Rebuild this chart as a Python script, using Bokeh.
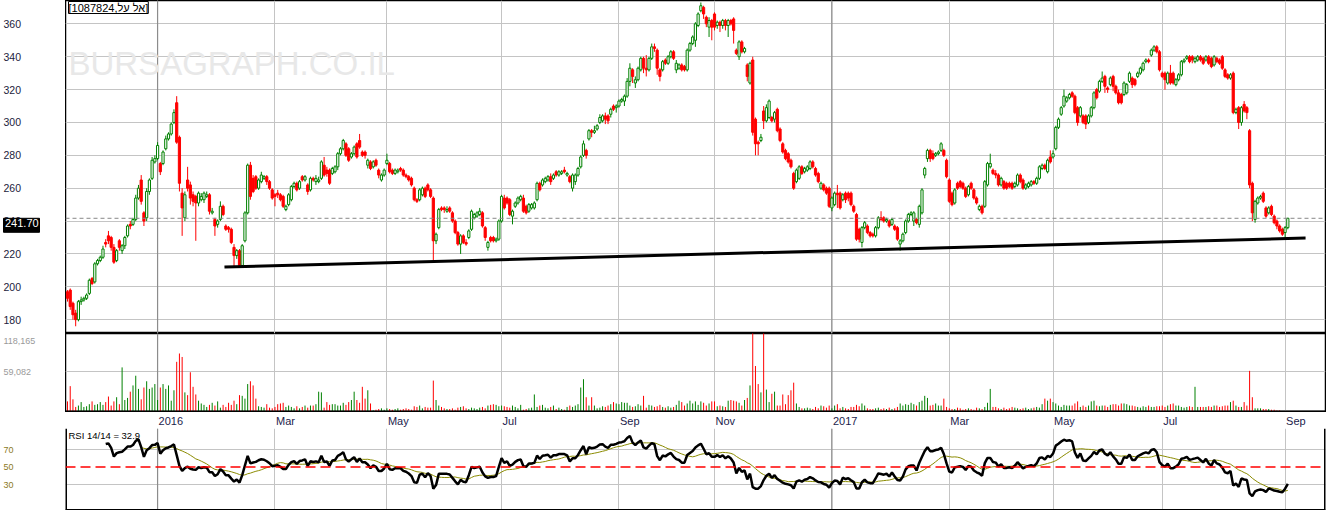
import numpy as np
import pandas as pd
from bokeh.plotting import figure
from bokeh.layouts import column, row
from bokeh.models import Range1d, FixedTicker, Span, Label, ColumnDataSource, Spacer
from bokeh.core.properties import value
from bokeh.embed import file_html
from bokeh.resources import INLINE

opens = [197,198,190,184,180,191,192,193,196,205, 203,214,216,218,227,231,230,224,216,228,
 222,225,231,238,238,241,254,265,245,242, 258,266,276,278,275,275,284,290,293,300,
 312,291,257,242,265,262,256,255,251,253, 253,255,256,245,241,238,241,249,237,236,
 235,224,219,222,213,228,245,274,266,267, 260,264,266,267,264,259,256,257,256,255,
 247,250,253,261,263,260,267,265,262,259, 266,264,264,266,274,271,271,269,270,273,
 281,284,287,284,279,281,287,289,282,282, 274,276,273,277,271,265,268,275,275,271,
 269,270,272,271,268,267,266,260,253,253, 256,260,262,259,254,228,236,248,248,246,
 248,245,240,233,226,231,227,230,235,242, 243,244,245,236,224,230,230,228,229,240,
 254,254,253,243,249,251,253,254,249,246, 248,248,253,263,262,264,265,267,266,270,
 268,269,271,268,267,260,264,268,273,280, 283,290,295,294,296,300,301,304,304,305,
 310,309,310,313,313,316,325,332,324,326, 332,339,333,332,339,346,344,332,332,338,
 336,340,343,332,333,335,334,332,344,348, 350,359,368,370,364,358,362,366,359,361,
 359,362,359,362,363,344,340,349,343,335, 324,338,302,288,289,307,301,303,303,302,
 308,296,287,283,281,277,269,264,266,273, 270,271,272,276,272,269,260,262,260,260,
 248,250,257,257,253,257,257,257,249,244, 235,227,236,237,233,232,231,236,242,242,
 240,240,238,237,236,226,228,233,240,244, 240,241,238,245,268,278,283,281,280,281,
 283,283,277,265,257,251,263,264,263,260, 256,263,259,254,247,249,249,262,273,271,
 269,268,262,264,263,263,263,261,262,268, 265,260,261,262,264,263,266,272,274,270,
 279,279,284,297,305,310,313,315,318,316, 309,304,304,304,300,304,309,320,319,325,
 328,321,323,328,322,318,317,317,318,325, 327,326,328,330,332,337,338,341,344,346,
 343,330,330,324,330,330,323,326,329,337, 339,340,340,337,338,340,339,338,340,339,
 335,339,338,340,332,329,327,330,306,309, 300,311,309,295,263,241,251,254,257,248,
 245,249,243,240,237,235,233,236]
highs = [198,199,191,186,192,194,194,196,205,206, 215,217,219,225,229,234,231,226,223,229,
 226,231,238,240,242,256,262,268,246,260, 266,279,280,288,276,283,292,294,300,308,
 316,292,260,258,273,264,258,256,258,257, 258,258,257,248,242,241,252,250,238,237,
 236,226,223,223,226,246,275,276,268,268, 266,270,268,268,265,260,257,259,257,256,
 250,257,262,264,264,265,268,268,263,267, 267,268,267,277,279,273,272,273,274,282,
 285,290,288,285,282,286,288,293,283,283, 278,277,277,278,272,269,272,281,276,272,
 272,272,273,272,269,268,267,261,254,260, 261,261,263,260,255,233,248,249,249,249,
 249,246,241,234,232,232,229,235,247,245, 246,248,246,237,228,231,231,230,241,256,
 256,255,254,247,252,255,256,256,250,251, 251,252,264,264,266,267,268,269,269,271,
 271,271,273,270,268,269,269,273,280,289, 284,296,296,298,299,305,305,306,305,309,
 311,311,314,315,317,327,336,333,328,334, 340,340,341,340,348,348,345,333,338,339,
 341,344,344,338,336,336,335,345,349,353, 361,367,373,371,365,364,363,367,362,362,
 363,363,363,363,364,345,350,350,346,336, 337,340,303,289,293,310,311,314,304,307,
 309,297,288,284,282,278,270,272,274,274, 273,274,277,277,273,270,264,263,261,261,
 255,258,262,258,257,258,258,258,250,245, 236,237,240,238,234,233,237,243,246,243,
 242,241,242,238,237,229,233,241,245,246, 246,242,250,260,273,284,284,283,282,283,
 288,284,278,266,258,260,264,265,264,261, 262,264,260,255,250,250,265,276,281,272,
 271,269,267,265,264,264,264,264,269,269, 266,263,264,265,265,267,274,275,275,278,
 283,283,298,303,310,320,316,318,319,317, 310,310,305,305,305,310,319,321,326,331,
 329,322,328,329,323,320,318,325,324,331, 328,327,331,334,337,339,339,345,347,347,
 344,331,331,331,335,331,327,330,338,339, 341,341,341,340,341,341,340,341,341,340,
 341,340,339,341,333,330,330,331,309,310, 310,313,310,296,264,253,255,256,258,249,
 249,250,244,241,238,236,237,242]
lows = [191,186,180,176,179,189,191,192,195,201, 202,213,215,217,224,226,222,214,215,222,
 220,223,230,235,237,240,253,250,237,240, 256,265,275,277,268,274,283,289,292,299,
 287,258,231,240,258,250,249,228,249,252, 251,254,244,244,231,236,240,243,234,233,
 226,212,217,212,212,227,244,253,257,259, 259,263,265,262,259,253,249,254,252,248,
 246,249,252,260,258,259,264,264,256,258, 264,262,263,265,267,267,262,268,269,271,
 280,283,279,276,278,280,278,284,279,278, 272,271,272,273,266,264,267,274,269,268,
 268,269,270,267,266,264,261,252,251,252, 255,254,258,254,216,226,235,246,245,245,
 245,239,232,225,220,226,225,229,234,241, 242,243,236,228,222,227,227,227,228,239,
 247,250,243,238,248,250,252,245,244,245, 247,247,252,258,261,263,264,262,265,267,
 267,268,269,267,263,258,262,267,272,279, 278,289,291,293,295,299,300,299,299,303,
 307,306,309,312,310,315,322,324,321,325, 331,330,328,331,338,343,329,325,331,335,
 335,339,338,330,332,331,331,331,343,347, 346,358,367,363,358,352,350,356,357,355,
 357,356,352,359,348,341,338,342,342,325, 323,292,280,280,288,296,300,302,300,300,
 294,288,281,277,275,272,259,263,265,268, 269,270,271,272,267,263,259,258,256,248,
 246,249,248,247,252,251,252,249,245,228, 227,224,235,232,230,230,230,235,240,239,
 239,236,237,234,228,222,227,232,239,243, 237,238,236,244,266,276,276,277,279,280,
 282,279,266,251,249,250,259,260,259,254, 255,259,253,250,246,244,248,261,272,268,
 266,261,261,259,259,260,259,260,261,263, 259,259,260,261,262,262,265,271,271,269,
 275,278,283,296,304,309,312,314,315,305, 298,303,299,296,299,303,308,314,318,324,
 318,318,322,319,317,311,311,316,317,324, 321,322,327,329,331,336,336,340,343,342,
 331,327,320,323,323,323,322,325,328,336, 338,336,336,336,337,337,335,337,335,333,
 334,336,335,332,327,326,326,305,305,296, 298,306,302,260,240,239,250,253,251,242,
 244,243,238,235,233,231,229,235]
closes = [193,188,183,180,191,192,193,195,204,202, 214,216,218,223,226,228,224,215,222,224,
 225,230,237,237,241,254,260,252,240,258, 265,277,278,286,270,282,290,293,299,306,
 288,263,248,256,260,254,252,251,257,255, 257,256,246,246,237,240,249,244,235,235,
 227,219,222,213,225,245,274,255,258,260, 265,268,267,264,260,254,255,256,253,249,
 249,256,261,263,259,264,265,267,258,266, 265,266,265,276,268,269,263,272,273,281,
 284,289,280,277,281,285,279,285,280,280, 277,272,276,274,268,268,271,277,270,269,
 271,271,271,268,267,265,262,253,252,259, 260,255,259,255,228,232,247,247,247,247,
 246,240,233,226,231,227,226,234,246,244, 245,246,237,230,227,228,228,229,240,255,
 248,251,244,246,251,254,255,246,245,250, 250,251,263,259,265,266,267,264,268,268,
 270,270,270,269,264,268,268,272,279,287, 280,295,294,295,298,303,304,302,301,308,
 308,310,313,314,316,325,333,328,326,333, 339,333,332,339,346,345,333,328,337,336,
 340,343,339,336,335,332,332,344,348,352, 360,366,371,366,360,362,358,358,361,359,
 362,359,362,360,356,342,349,343,345,328, 336,294,287,287,291,301,309,313,301,306,
 295,289,282,278,276,273,260,271,273,269, 272,273,276,273,268,264,263,259,257,249,
 254,257,256,248,256,253,254,250,246,229, 229,236,239,233,231,231,236,242,241,240,
 241,237,241,235,229,228,232,240,244,245, 245,239,249,259,272,283,278,278,281,282,
 287,280,267,252,250,259,260,261,260,255, 261,260,254,251,249,245,264,275,275,269,
 268,262,266,260,260,261,260,263,268,264, 260,262,263,264,263,266,273,274,272,277,
 276,281,297,302,309,316,315,317,316,306, 300,309,300,299,304,309,318,315,325,327,
 322,320,327,322,318,312,312,324,323,330, 323,323,330,333,336,338,337,344,346,343,
 332,328,326,330,324,324,326,329,337,338, 340,337,338,339,340,338,336,340,336,334,
 340,337,336,333,328,327,329,306,308,300, 309,307,306,262,245,252,254,255,252,243,
 248,244,239,237,234,232,236,241.7]
volumes_k = [16,38,19,8,10,15,8,9,12,16, 11,12,15,11,15,23,10,16,22,12,
 65,18,21,30,39,53,34,19,36,45, 34,36,41,18,36,41,34,39,17,32,
 73,85,80,29,25,58,37,26,17,13, 11,8,11,14,10,16,7,11,8,14,
 11,17,12,25,24,20,41,45,39,20, 9,8,7,12,7,6,8,12,13,14,
 8,10,8,6,9,6,8,10,7,10, 10,12,30,29,7,15,11,12,12,10,
 10,14,11,15,18,30,18,14,37,20, 32,13,3,4,5,6,4,6,5,4,
 5,6,4,5,6,5,4,9,8,10, 6,8,7,7,46,18,10,8,6,5,
 5,6,4,7,8,9,6,5,7,6, 5,7,8,6,10,11,12,11,9,10,
 9,8,7,10,8,6,11,4,5,6, 7,26,8,10,11,7,6,8,10,5,
 7,5,4,8,10,8,10,12,36,48, 22,10,22,10,6,7,9,8,10,12,
 15,13,12,15,14,14,10,8,9,12, 10,24,7,11,10,8,9,11,8,7,
 9,7,8,11,17,15,10,13,17,13, 16,11,16,14,10,13,16,16,9,10,
 9,8,17,18,17,16,14,10,18,21, 39,130,67,41,29,125,33,15,27,30,
 10,10,26,12,25,32,43,13,8,6, 6,7,6,5,8,6,10,9,7,10,
 6,10,12,6,8,6,5,8,8,11, 9,13,10,6,5,5,6,7,5,6,
 5,7,5,6,8,13,10,12,11,14, 12,10,15,17,24,21,10,11,13,10,
 10,20,8,6,5,5,7,6,4,5, 6,5,4,7,6,5,8,14,34,8,
 8,6,5,7,5,6,8,7,6,5, 6,7,5,6,7,8,7,12,20,17,
 20,15,13,10,8,11,10,10,10,13, 16,8,10,8,10,16,17,10,9,10,
 10,8,11,12,12,10,13,13,12,10, 10,9,8,7,9,8,10,8,8,9,
 9,10,8,10,12,13,10,10,8,7, 8,9,8,37,8,8,8,8,9,8,
 10,10,8,9,10,10,15,17,10,8, 8,15,10,60,22,6,6,6,5,5,
 5,4,4,3,3,2,2,2]

month_ticks = [33, 76, 117, 159, 202, 237, 280, 323, 361, 401, 446]
month_labels = ["2016", "Mar", "May", "Jul", "Sep", "Nov", "2017", "Mar", "May", "Jul", "Sep"]
price_ticks = [180, 200, 220, 240, 260, 280, 300, 320, 340, 360]
volume_ticks = [59082, 102313]
volume_labels = ["59,082", "118,165"]
rsi_ticks = [30, 50, 70]
trend_x = [57.5, 453.5]
trend_y = [212.0, 229.7]
title_text = "[1087824,אל על]"
watermark_text = "BURSAGRAPH.CO.IL"
rsi_title = "RSI 14/14 = 32.9"

FONT = "Liberation Sans"
GREEN = "#008000"
RED = "#ff0000"
GRID = "#c4c4c4"
GUTTER = 65
PW = 1326 - GUTTER
N = len(closes)
xs = list(range(N))
xr = Range1d(-0.73, 460.8)
price_range = Range1d(171.6, 374.2)
vol_range = Range1d(0, 113841)
rsi_range = Range1d(0.3, 94)
H_MAIN, H_VOL, H_DATE, H_RSI = 333, 79, 16, 82

up = [c >= o for o, c in zip(opens, closes)]
colors = [GREEN if u else RED for u in up]
fills = ["white" if u else RED for u in up]
src = ColumnDataSource(dict(
    x=xs, o=opens, h=highs, l=lows, c=closes,
    top=[max(o, c) for o, c in zip(opens, closes)],
    bot=[min(o, c) for o, c in zip(opens, closes)],
    color=colors, fill=fills,
    vol=[v * 1000 for v in volumes_k],
))

# RSI (Wilder, 14) and its 14-period average
cl = np.array(closes, dtype=float)
d = np.diff(cl)
g = np.clip(d, 0, None)
ls = np.clip(-d, 0, None)
rsi = np.full(N, np.nan)
ag, al = g[:14].mean(), ls[:14].mean()
rsi[14] = 100 - 100 / (1 + ag / al) if al > 0 else 100
for i in range(15, N):
    ag = (ag * 13 + g[i - 1]) / 14
    al = (al * 13 + ls[i - 1]) / 14
    rsi[i] = 100 - 100 / (1 + ag / al) if al > 0 else 100
rsi_ma = pd.Series(rsi).rolling(14).mean().to_numpy()


def base(width, h, x_range, y_range, right=0):
    p = figure(width=width, height=h, x_range=x_range, y_range=y_range, output_backend="svg",
               toolbar_location=None, x_axis_location=None, y_axis_location=None,
               min_border_left=0, min_border_right=right, min_border_top=0, min_border_bottom=0)
    p.background_fill_color = "white"
    p.border_fill_color = "white"
    return p


def panel(h, yr):
    p = base(PW, h, xr, yr, right=1)
    p.outline_line_color = "black"
    p.outline_line_width = 1.5
    p.xgrid.ticker = FixedTicker(ticks=month_ticks)
    p.xgrid.grid_line_color = GRID
    p.ygrid.grid_line_color = GRID
    for t, lab in zip(month_ticks, month_labels):
        if lab.isdigit():
            p.add_layout(Span(location=t, dimension="height", line_color="#8c8c8c",
                              line_width=1.2, level="underlay"))
    return p


def gutter(h, yr, ticks, labels, size, color):
    gf = base(GUTTER, h, Range1d(0, GUTTER), yr)
    gf.outline_line_color = None
    gf.grid.visible = False
    gf.text(x=[3] * len(ticks), y=ticks, text=labels, text_font=value(FONT),
            text_font_size=value(size), text_color=color, text_align="left",
            text_baseline="middle")
    return gf


# ---------- main price panel ----------
p1 = panel(H_MAIN, price_range)
p1.ygrid.ticker = FixedTicker(ticks=price_ticks)
p1.add_layout(Label(x=xr.start, y=335.9, x_offset=3, text=watermark_text, text_font=FONT,
                    text_font_size="33px", text_color="#e8e8e8", text_baseline="alphabetic",
                    level="underlay"))
p1.add_layout(Span(location=closes[-1], dimension="width", line_color="#888888",
                   line_dash="4 3", line_width=1))
p1.segment(x0="x", y0="l", x1="x", y1="h", line_color="color", line_width=1, source=src)
p1.vbar(x="x", width=0.8, top="top", bottom="bot", fill_color="fill", line_color="color",
        line_width=1, source=src)
p1.line(trend_x, trend_y, line_color="black", line_width=3)
p1.add_layout(Label(x=xr.start, y=price_range.end, x_offset=3, y_offset=-1, text=title_text,
                    text_font=FONT, text_font_size="11px", text_color="black", text_baseline="top",
                    background_fill_color="white", border_line_color="black", border_line_width=1))

g1 = gutter(H_MAIN, price_range, price_ticks, [str(t) for t in price_ticks], "10.5px", "#1c1c3c")
px_per_unit = H_MAIN / (price_range.end - price_range.start)
g1.quad(left=3, right=39, top=closes[-1], bottom=closes[-1] - 14 / px_per_unit,
        fill_color="black", line_color="black")
g1.text(x=[4.5], y=[closes[-1]], text=[f"{closes[-1]:.2f}"], text_font=value(FONT),
        text_font_size=value("11px"), text_color="white", text_align="left",
        text_baseline="top", y_offset=1)

# ---------- volume panel ----------
p2 = panel(H_VOL, vol_range)
p2.ygrid.ticker = FixedTicker(ticks=[volume_ticks[0]])
p2.segment(x0="x", y0=0, x1="x", y1="vol", line_color="color", line_width=1, source=src)
p2.add_layout(Span(location=0, dimension="width", line_color="black", line_width=4))
g2 = gutter(H_VOL, vol_range, volume_ticks, volume_labels, "9px", "#9a9a9a")

# ---------- date strip ----------
strip = base(PW, H_DATE, xr, Range1d(0, 1), right=1)
strip.outline_line_color = None
strip.grid.visible = False
strip.text(x=month_ticks, y=[0.45] * len(month_ticks), text=month_labels, x_offset=1,
           text_font=value(FONT), text_font_size=value("11px"), text_color="#1c1c4c",
           text_align="left", text_baseline="middle")
sp = Spacer(width=GUTTER, height=H_DATE)

# ---------- RSI panel ----------
p3 = panel(H_RSI, rsi_range)
p3.outline_line_color = None
p3.ygrid.ticker = FixedTicker(ticks=[30, 70])
for loc, dim in ((xr.start, "height"), (xr.end, "height"), (rsi_range.start, "width")):
    p3.add_layout(Span(location=loc, dimension=dim, line_color="black", line_width=3))
p3.add_layout(Span(location=50, dimension="width", line_color=RED, line_dash="10 5", line_width=1.5))
p3.line(xs, rsi_ma, line_color="#8b8b00", line_width=1)
p3.line(xs, rsi, line_color="black", line_width=2.5)
p3.add_layout(Label(x=xr.start, y=rsi_range.end, x_offset=3, y_offset=-1, text=rsi_title,
                    text_font=FONT, text_font_size="9.5px", text_color="black",
                    text_baseline="top"))
g4 = gutter(H_RSI, rsi_range, rsi_ticks, [str(t) for t in rsi_ticks], "9px", "#8c7a1e")

layout = column(row(g1, p1), row(g2, p2), row(sp, strip), row(g4, p3))
open("out.html", "w").write(file_html(layout, INLINE, title="chart"))
